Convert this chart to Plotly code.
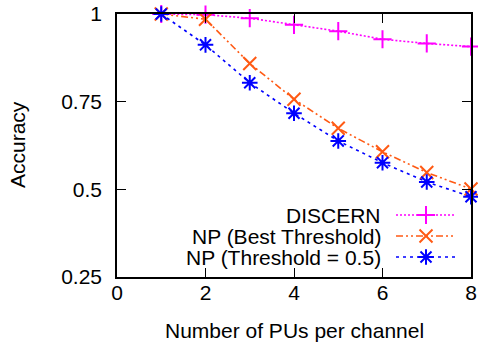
import plotly.graph_objects as go

pus = [1, 2, 3, 4, 5, 6, 7, 8]
discern = [1.0, 0.998, 0.988, 0.969, 0.951, 0.928, 0.916, 0.907]
np_best = [1.0, 0.985, 0.859, 0.757, 0.674, 0.607, 0.548, 0.501]
np_half = [1.0, 0.912, 0.804, 0.717, 0.638, 0.576, 0.521, 0.479]

series_names = ["DISCERN", "NP (Best Threshold)", "NP (Threshold = 0.5)"]
series_vals = [discern, np_best, np_half]
colors = ["#ff00ff", "#ff5a14", "#0000ff"]
symbols = ["cross-thin", "x-thin", "asterisk-open"]
dashes = ["2px,2px", "7px,3px,2px,3px,2px,3px", "3px,4px"]

x_ticks = [0, 2, 4, 6, 8]
y_ticks = [0.25, 0.5, 0.75, 1]
y_labels = ["0.25", "0.5", "0.75", "1"]

FONT = "Liberation Sans, Arial, sans-serif"
FS = 21

fig = go.Figure()
for name, vals, c, s, d in zip(series_names, series_vals, colors, symbols, dashes):
    fig.add_trace(go.Scatter(
        x=pus, y=vals, mode="lines+markers", name=name,
        line=dict(color=c, width=1.6, dash=d),
        marker=dict(symbol=s, size=13, color=c, line=dict(color=c, width=2)),
        cliponaxis=False, showlegend=False,
    ))

# manual gnuplot-style legend (text left, sample right)
W, H, L, T = 478, 345, 117, 14
R, B = 7, 68
pw, ph = W - L - R, H - T - B
def px(x):
    return (x - L) / pw
def py(y):
    return (T + ph - y) / ph

rows = [215, 236, 257]
for name, c, s, d, ry in zip(series_names, colors, symbols, dashes, rows):
    fig.add_annotation(x=px(383), y=py(ry), xref="paper", yref="paper",
                       text=name, showarrow=False, xanchor="right", yanchor="middle",
                       font=dict(family=FONT, size=FS, color="black"))
    fig.add_shape(type="line", xref="paper", yref="paper",
                  x0=px(396), x1=px(455), y0=py(ry), y1=py(ry),
                  line=dict(color=c, width=1.6, dash=d))
    fig.add_trace(go.Scatter(
        x=[px(426)], y=[py(ry)], xaxis="x2", yaxis="y2", mode="markers",
        marker=dict(symbol=s, size=13, color=c, line=dict(color=c, width=2)),
        showlegend=False, hoverinfo="skip", cliponaxis=False,
    ))

axis_common = dict(
    showgrid=False, zeroline=False, showline=True, linecolor="black", linewidth=1.5,
    mirror="ticks", ticks="inside", ticklen=9, tickwidth=1.2, tickcolor="black",
    tickfont=dict(family=FONT, size=FS, color="black"), automargin=False,
)

fig.update_layout(
    width=W, height=H,
    margin=dict(l=L, r=R, t=T, b=B, autoexpand=False),
    paper_bgcolor="white", plot_bgcolor="white",
    xaxis=dict(range=[0, 8], tickvals=x_ticks, ticklabelstandoff=-4, **axis_common),
    yaxis=dict(range=[0.25, 1], tickvals=y_ticks, ticktext=y_labels,
               ticklabelstandoff=9, **axis_common),
    xaxis2=dict(range=[0, 1], overlaying="x", visible=False, anchor="y2"),
    yaxis2=dict(range=[0, 1], overlaying="y", visible=False, anchor="x2"),
    font=dict(family=FONT, size=FS, color="black"),
)

fig.add_annotation(x=px((L + W - R) / 2 + 0), y=py(330), xref="paper", yref="paper",
                   text="Number of PUs per channel", showarrow=False,
                   xanchor="center", yanchor="middle",
                   font=dict(family=FONT, size=FS, color="black"))
fig.add_annotation(x=px(17), y=py(145), xref="paper", yref="paper",
                   text="Accuracy", showarrow=False, textangle=-90,
                   xanchor="center", yanchor="middle",
                   font=dict(family=FONT, size=FS, color="black"))

fig.write_html("out.html", config={"displayModeBar": False},
               post_script="document.body.style.margin='0';")
